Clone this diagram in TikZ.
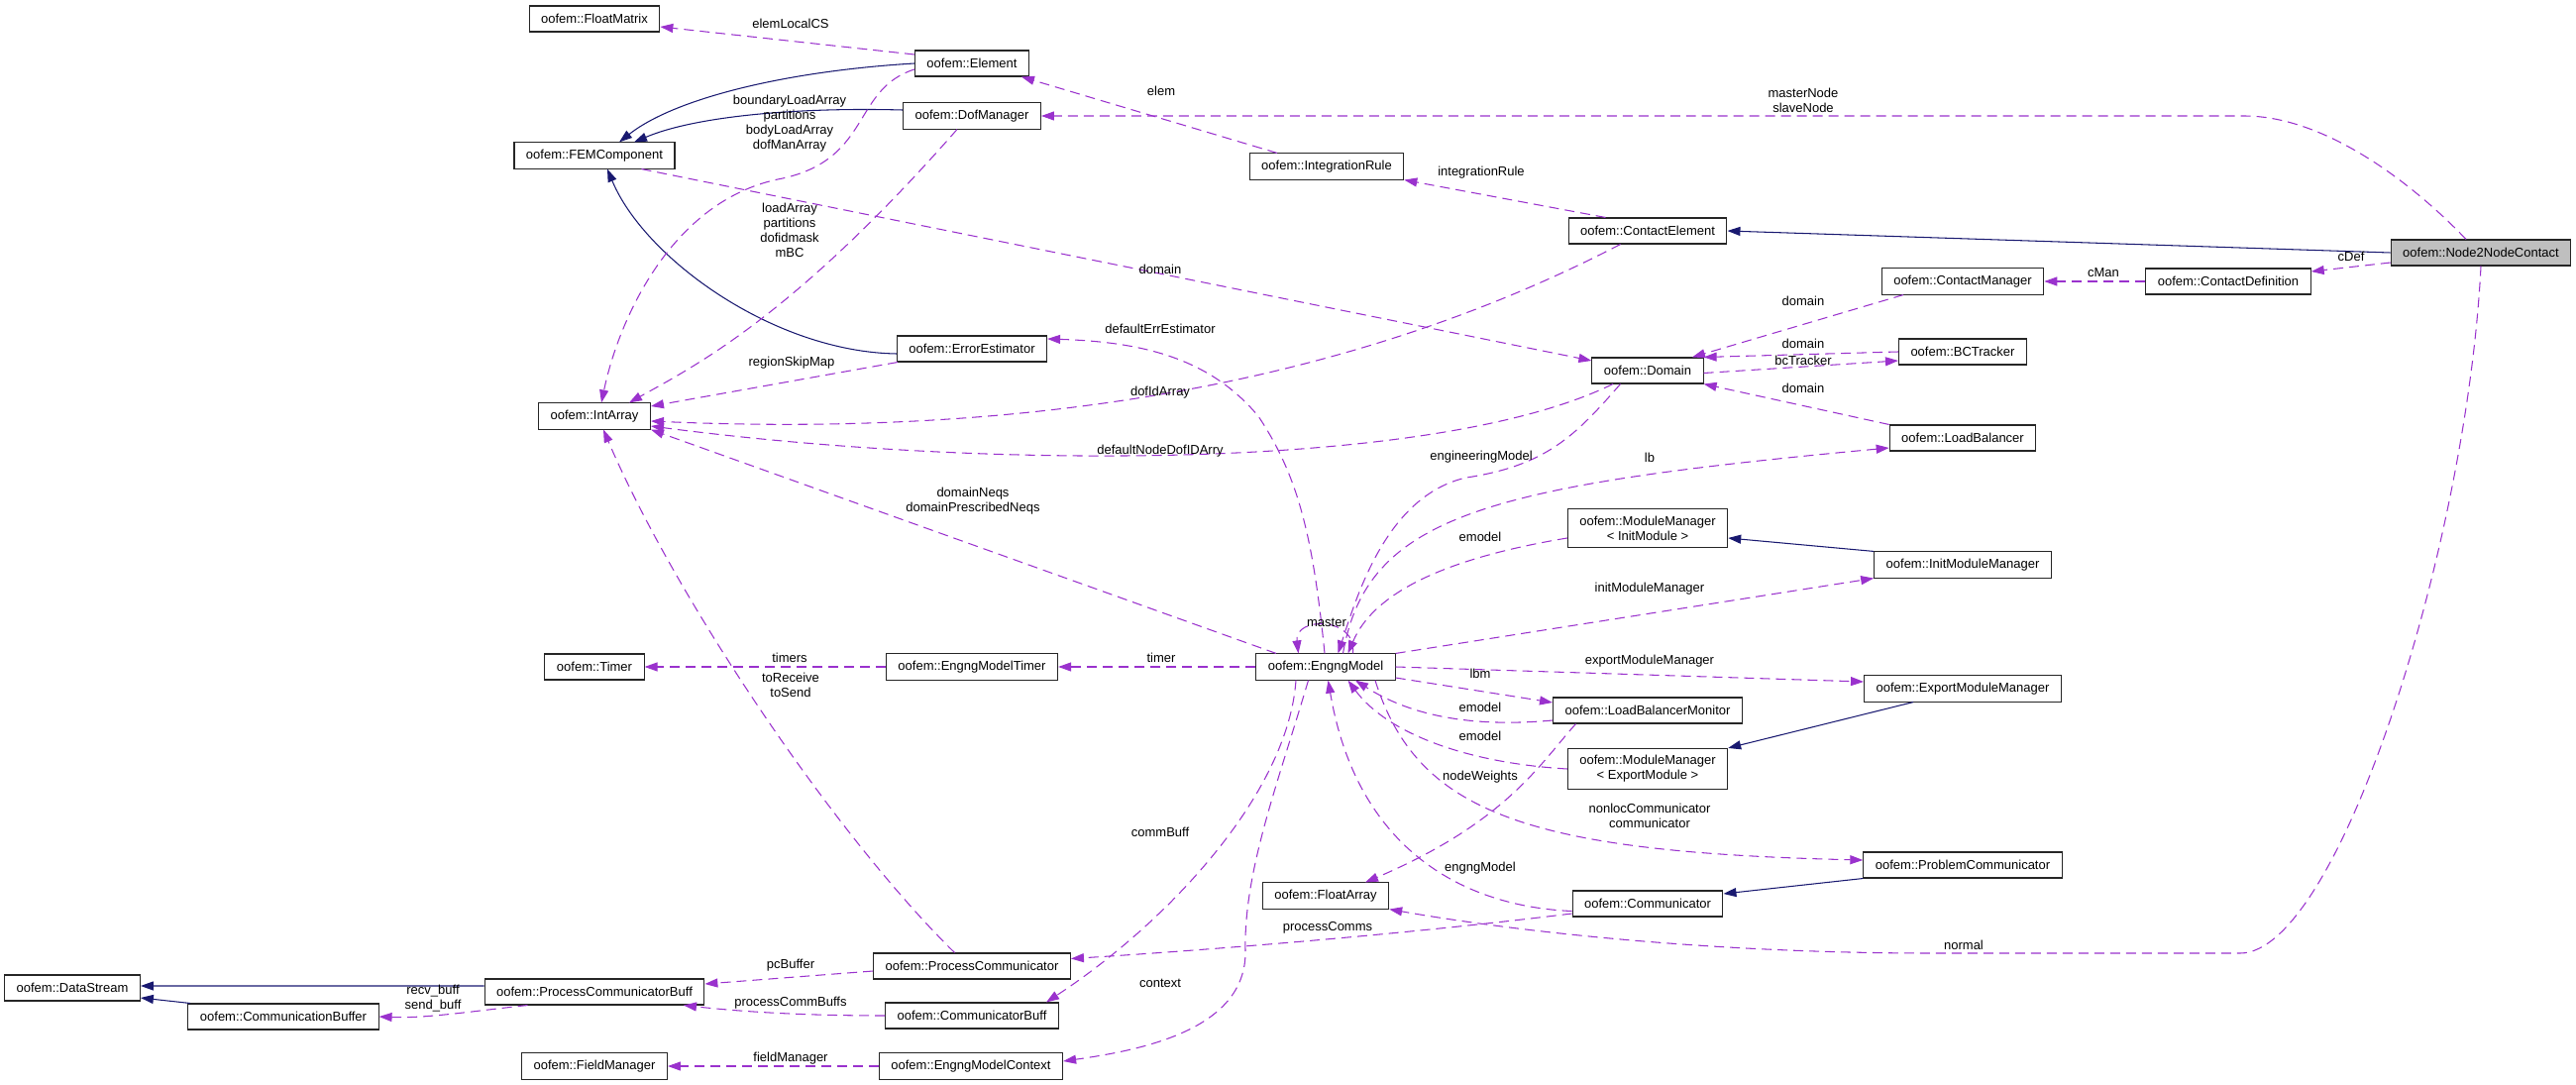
\documentclass[tikz,border=0pt]{standalone}
\usepackage{fontspec}
\setmainfont{Liberation Sans}
\usepackage{xcolor}
\usepackage{tikz}
\usetikzlibrary{shapes,arrows,arrows.meta}
\definecolor{usecol}{HTML}{9A32CD}
\definecolor{inhcol}{HTML}{191970}
\tikzstyle{cls} = [rectangle, draw=black!85, line width=0.6pt, fill=white, align=center, inner xsep=0.24cm, inner ysep=0.14cm, minimum height=0.52cm, font=\fontsize{7.4}{8.5}\selectfont]
\tikzstyle{lbl} = [inner sep=0pt, align=center, font=\fontsize{7.4}{8.5}\selectfont]
\tikzstyle{use} = [draw=usecol, line width=0.6pt, dash pattern=on 0.2cm off 0.12cm, -{Triangle[length=0.26cm,width=0.18cm]}]
\tikzstyle{inh} = [draw=inhcol, line width=0.6pt, -{Triangle[length=0.26cm,width=0.18cm]}]

\begin{document}
\begin{tikzpicture}[x=0.02cm, y=-0.02cm]
\useasboundingbox (0,0) rectangle (2600,1095);

\node [cls] (fmat) at (600,19) {oofem::FloatMatrix};
\node [cls] (femc) at (600,157) {oofem::FEMComponent};
\node [cls] (elem) at (981,64) {oofem::Element};
\node [cls] (dofm) at (981,117) {oofem::DofManager};
\node [cls] (irule) at (1339,168) {oofem::IntegrationRule};
\node [cls] (celem) at (1663,233) {oofem::ContactElement};
\node [cls, fill=gray!50] (n2n) at (2504,255) {oofem::Node2NodeContact};
\node [cls] (cdef) at (2249,284) {oofem::ContactDefinition};
\node [cls] (cman) at (1981,284) {oofem::ContactManager};
\node [cls] (bct) at (1981,355) {oofem::BCTracker};
\node [cls] (dom) at (1663,374) {oofem::Domain};
\node [cls] (lbal) at (1981,442) {oofem::LoadBalancer};
\node [cls] (mmi) at (1663,533) {oofem::ModuleManager\\< InitModule >};
\node [cls] (imm) at (1981,570) {oofem::InitModuleManager};
\node [cls] (emod) at (1338,673) {oofem::EngngModel};
\node [cls] (exmm) at (1981,695) {oofem::ExportModuleManager};
\node [cls] (lbm) at (1663,717) {oofem::LoadBalancerMonitor};
\node [cls] (mme) at (1663,776) {oofem::ModuleManager\\< ExportModule >};
\node [cls] (pcom) at (1981,873) {oofem::ProblemCommunicator};
\node [cls] (comm) at (1663,912) {oofem::Communicator};
\node [cls] (farr) at (1338,904) {oofem::FloatArray};
\node [cls] (prc) at (981,975) {oofem::ProcessCommunicator};
\node [cls] (cbuf) at (981,1025) {oofem::CommunicatorBuff};
\node [cls] (ectx) at (980,1076) {oofem::EngngModelContext};
\node [cls] (fman) at (600,1076) {oofem::FieldManager};
\node [cls] (pcbuf) at (600,1001) {oofem::ProcessCommunicatorBuff};
\node [cls] (cbuffer) at (286,1026) {oofem::CommunicationBuffer};
\node [cls] (dstr) at (73,997) {oofem::DataStream};
\node [cls] (timer) at (600,673) {oofem::Timer};
\node [cls] (iarr) at (600,420) {oofem::IntArray};
\node [cls] (emt) at (981,673) {oofem::EngngModelTimer};
\node [cls] (eest) at (981,352) {oofem::ErrorEstimator};

\path [inh] (elem.west) .. controls (790,72) and (680,100) .. ([xshift=0.5cm]femc.north);
\path [inh] ([yshift=0.12cm]dofm.west) .. controls (800,108) and (700,118) .. ([xshift=0.8cm]femc.north);
\path [inh] ([yshift=-0.1cm]eest.west) .. controls (780,355) and (650,260) .. ([xshift=0.26cm]femc.south);
\path [inh] (n2n.west) -- (celem.east);
\path [inh] (imm.north west) -- ([yshift=-0.2cm]mmi.east);
\path [inh] ([xshift=-1cm]exmm.south) -- (mme.north east);
\path [inh] (pcom.south west) -- ([yshift=0.2cm]comm.east);
\path [inh] ([yshift=0.12cm]pcbuf.west) -- ([yshift=0.04cm]dstr.east);
\path [inh] ([xshift=0.05cm]cbuffer.north west) -- ([yshift=-0.2cm]dstr.east);

\path [use] ([yshift=0.18cm]elem.west) -- ([yshift=-0.16cm]fmat.east);
\path [use] ([xshift=-1cm]irule.north) -- ([xshift=1cm]elem.south);
\path [use] ([xshift=-0.85cm]celem.north) -- (irule.south east);
\path [use] ([xshift=-0.3cm]n2n.north) .. controls (2440,190) and (2350,117) .. (2265,117) -- (dofm.east);
\path [use] ([yshift=-0.2cm]n2n.west) -- ([yshift=0.2cm]cdef.east);
\path [use] (cdef.west) -- (cman.east);
\path [use] ([xshift=-1.2cm]cman.south) -- ([xshift=0.9cm]dom.north);
\path [use] (bct.west) -- (dom.north east);
\path [use] ([yshift=-0.05cm]dom.east) -- ([yshift=-0.18cm]bct.west);
\path [use] (lbal.north west) -- (dom.south east);
\path [use] ([xshift=0.95cm]femc.south) -- ([yshift=0.2cm]dom.west);
\path [use] ([xshift=-0.55cm]celem.south) .. controls (1340,400) and (1000,440) .. ([yshift=-0.1cm]iarr.east);
\path [use] ([xshift=-0.7cm]dom.south) .. controls (1450,475) and (1000,475) .. ([yshift=-0.2cm]iarr.east);
\path [use] ([yshift=-0.12cm]elem.west) .. controls (860,90) and (880,160) .. (790,180) .. controls (680,200) and (625,320) .. ([xshift=0.14cm]iarr.north);
\path [use] ([xshift=-0.3cm]dofm.south) .. controls (800,320) and (700,370) .. ([xshift=0.7cm]iarr.north);
\path [use] ([xshift=-1.5cm]eest.south) -- ([yshift=0.2cm]iarr.east);
\path [use] ([xshift=-1cm]emod.north) -- (iarr.south east);
\path [use] ([xshift=-0.35cm]prc.north) .. controls (840,840) and (680,600) .. ([xshift=0.18cm]iarr.south);
\path [use] (emt.west) -- (timer.east);
\path [use] (emod.west) -- (emt.east);
\path [use] ([xshift=0.55cm]emod.north) .. controls (1370,622) and (1306,622) .. ([xshift=-0.55cm]emod.north);
\path [use] ([xshift=-0.02cm]emod.north) .. controls (1325,540) and (1310,480) .. (1270,420) .. controls (1220,360) and (1150,345) .. ([yshift=0.2cm]eest.east);
\path [use] ([xshift=-0.55cm]dom.south) .. controls (1590,440) and (1560,470) .. (1480,482) .. controls (1400,500) and (1370,600) .. ([xshift=0.25cm]emod.north);
\path [use] ([xshift=0.35cm]emod.north) .. controls (1380,520) and (1500,490) .. ([yshift=-0.2cm]lbal.west);
\path [use] ([yshift=-0.2cm]mmi.west) .. controls (1480,560) and (1390,590) .. ([xshift=0.45cm]emod.north);
\path [use] (emod.north east) -- (imm.south west);
\path [use] (emod.east) -- ([yshift=0.14cm]exmm.west);
\path [use] ([yshift=-0.22cm]emod.east) -- ([yshift=0.16cm]lbm.west);
\path [use] ([yshift=-0.2cm]lbm.west) .. controls (1480,735) and (1420,720) .. ([xshift=0.6cm]emod.south);
\path [use] (mme.west) .. controls (1480,770) and (1400,740) .. ([xshift=0.45cm]emod.south);
\path [use] ([xshift=-1.45cm]lbm.south) .. controls (1555,770) and (1520,830) .. ([xshift=0.8cm]farr.north);
\path [use] ([xshift=1cm]emod.south) .. controls (1430,820) and (1540,860) .. ([yshift=0.1cm]pcom.west);
\path [use] ([yshift=-0.15cm]comm.west) .. controls (1480,915) and (1370,860) .. ([xshift=0.05cm]emod.south);
\path [use] ([yshift=-0.2cm]comm.west) .. controls (1400,945) and (1200,960) .. ([yshift=0.15cm]prc.east);
\path [use] (n2n.south) .. controls (2490,550) and (2360,962) .. (2261,962) -- (1950,962) .. controls (1700,962) and (1500,935) .. (farr.south east);
\path [use] ([xshift=-0.6cm]emod.south) .. controls (1300,800) and (1180,930) .. ([xshift=1.5cm]cbuf.north);
\path [use] ([xshift=-0.35cm]emod.south) .. controls (1290,790) and (1255,880) .. (1257,960) .. controls (1258,1040) and (1150,1060) .. ([yshift=0.1cm]ectx.east);
\path [use] ([yshift=-0.1cm]prc.west) -- ([yshift=0.16cm]pcbuf.east);
\path [use] (cbuf.west) .. controls (800,1025) and (740,1020) .. ([xshift=1.8cm]pcbuf.south);
\path [use] ([xshift=-1.35cm]pcbuf.south) .. controls (480,1020) and (430,1028) .. (cbuffer.east);
\path [use] (ectx.west) -- (fman.east);

\node [lbl] (lelemcs) at (798,24) {elemLocalCS};
\node [lbl] (lelem) at (1172,92) {elem};
\node [lbl] (lirule) at (1495,174) {integrationRule};
\node [lbl] (lmaster) at (1820,101) {masterNode\\slaveNode};
\node [lbl] (lcdef) at (2373,259) {cDef};
\node [lbl] (lcman) at (2123,275) {cMan};
\node [lbl] (ldom1) at (1820,304) {domain};
\node [lbl] (ldom2) at (1820,347) {domain};
\node [lbl] (lbct) at (1820,364) {bcTracker};
\node [lbl] (ldom3) at (1820,392) {domain};
\node [lbl] (ldom4) at (1171,272) {domain};
\node [lbl] (ldofid) at (1171,396) {dofIdArray};
\node [lbl] (ldefnode) at (1171,455) {defaultNodeDofIDArry};
\node [lbl] (lelemarr) at (797,125) {boundaryLoadArray\\partitions\\bodyLoadArray\\dofManArray};
\node [lbl] (ldofarr) at (797,232) {loadArray\\partitions\\dofidmask\\mBC};
\node [lbl] (lregion) at (799,366) {regionSkipMap};
\node [lbl] (ldneqs) at (982,506) {domainNeqs\\domainPrescribedNeqs};
\node [lbl] (lrecv) at (798,691) {toReceive\\toSend};
\node [lbl] (ltimers) at (797,664) {timers};
\node [lbl] (ltimer) at (1172,664) {timer};
\node [lbl] (lmastr) at (1339,628) {master};
\node [lbl] (lerrest) at (1171,332) {defaultErrEstimator};
\node [lbl] (lengm) at (1495,461) {engineeringModel};
\node [lbl] (llb) at (1665,462) {lb};
\node [lbl] (lemod1) at (1494,542) {emodel};
\node [lbl] (limm) at (1665,594) {initModuleManager};
\node [lbl] (lexmm) at (1665,667) {exportModuleManager};
\node [lbl] (llbm) at (1494,680) {lbm};
\node [lbl] (lemod2) at (1494,714) {emodel};
\node [lbl] (lemod3) at (1494,743) {emodel};
\node [lbl] (lnodew) at (1494,784) {nodeWeights};
\node [lbl] (lnonloc) at (1665,823) {nonlocCommunicator\\communicator};
\node [lbl] (lengng) at (1494,876) {engngModel};
\node [lbl] (lpcomms) at (1340,936) {processComms};
\node [lbl] (lnormal) at (1982,954) {normal};
\node [lbl] (lcbuf) at (1171,840) {commBuff};
\node [lbl] (lctx) at (1171,992) {context};
\node [lbl] (lpcbuf) at (798,974) {pcBuffer};
\node [lbl] (lpcbufs) at (798,1012) {processCommBuffs};
\node [lbl] (lrecvb) at (437,1008) {recv\_buff\\send\_buff};
\node [lbl] (lfman) at (798,1068) {fieldManager};
\end{tikzpicture}
\end{document}
